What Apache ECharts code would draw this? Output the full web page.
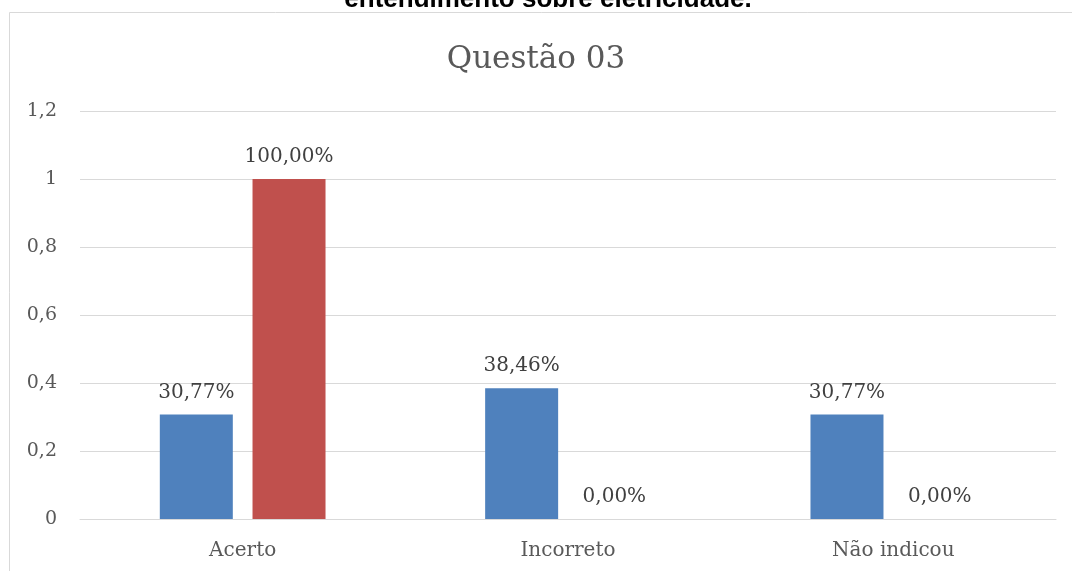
<!DOCTYPE html>
<html><head><meta charset="utf-8">
<script src="https://cdn.jsdelivr.net/npm/echarts@6/dist/echarts.min.js"></script>
<style>html,body{margin:0;padding:0;background:#fff}#c{width:1072px;height:571px}</style>
</head><body><div id="c"></div>
<script>
const categories = ['Acerto', 'Incorreto', 'Não indicou'];
const series1 = [0.3077, 0.3846, 0.3077];
const series2 = [1.0, 0.0, 0.0];
const yTicks = [0, 0.2, 0.4, 0.6, 0.8, 1, 1.2];
const titleText = 'Questão 03';
const captionText = 'entendimento sobre eletricidade.';

const serif = "'DejaVu Serif', 'Liberation Serif', serif";
const fmtPct = v => (v * 100).toFixed(2).replace('.', ',') + '%';
const chart = echarts.init(document.getElementById('c'));
chart.setOption({
  animation: false,
  backgroundColor: '#fff',
  title: {
    text: titleText, left: 'center', top: 39,
    textStyle: { fontFamily: serif, fontSize: 31, fontWeight: 'normal', color: '#595959' }
  },
  graphic: [
    { type: 'rect', shape: { x: 9.5, y: 12.5, width: 1100, height: 600 }, style: { fill: 'none', stroke: '#d9d9d9', lineWidth: 1 } },
    { type: 'text', x: 548, y: 13, style: { text: captionText, font: "bold 26px 'Liberation Sans', Arial, sans-serif", fill: '#000', textAlign: 'center', textVerticalAlign: 'bottom' } }
  ],
  grid: { left: 80, right: 16, top: 111, bottom: 52 },
  xAxis: {
    type: 'category', data: categories,
    axisLine: { lineStyle: { color: '#d9d9d9', width: 1 } },
    axisTick: { show: false },
    axisLabel: { fontFamily: serif, fontSize: 20, color: '#595959', margin: 22 }
  },
  yAxis: {
    type: 'value', min: 0, max: 1.2, interval: 0.2,
    axisLine: { show: false }, axisTick: { show: false },
    splitLine: { lineStyle: { color: '#d9d9d9', width: 1 } },
    axisLabel: {
      fontFamily: serif, fontSize: 19, color: '#595959', margin: 23,
      formatter: v => { const t = yTicks.find(x => Math.abs(x - v) < 1e-9); return String(+(t ?? v).toFixed(1)).replace('.', ','); }
    }
  },
  series: [
    {
      type: 'bar', data: series1, barWidth: 73, barGap: '27%',
      itemStyle: { color: '#4f81bd' },
      label: { show: true, position: 'top', distance: 12, formatter: p => fmtPct(p.value), fontFamily: serif, fontSize: 20, color: '#404040' }
    },
    {
      type: 'bar', data: series2, barWidth: 73,
      itemStyle: { color: '#c0504d' },
      label: { show: true, position: 'top', distance: 12, formatter: p => fmtPct(p.value), fontFamily: serif, fontSize: 20, color: '#404040' }
    }
  ]
});
</script></body></html>
